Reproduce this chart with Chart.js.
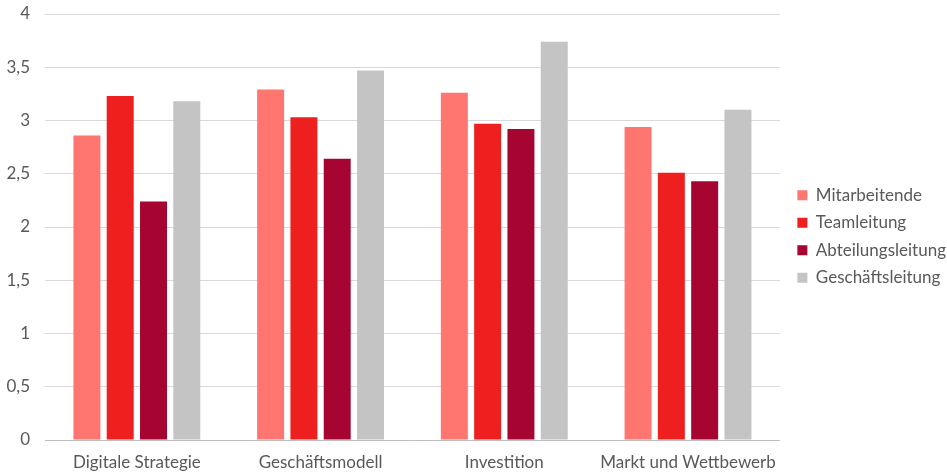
<!DOCTYPE html>
<html lang="de">
<head>
<meta charset="utf-8">
<title>Bewertung nach Ebene</title>
<script src="https://cdn.jsdelivr.net/npm/chart.js@4.4.1/dist/chart.umd.min.js"></script>
<style>
    html, body { margin: 0; padding: 0; background: #fff; }
    #wrap { width: 947px; height: 475px; position: relative; }
</style>
</head>
<body>
<div id="wrap"><canvas id="chart"></canvas></div>
<script>
// Kategorien und Werte je Ebene
const categories = ['Digitale Strategie', 'Geschäftsmodell', 'Investition', 'Markt und Wettbewerb'];
const mitarbeitende = [2.86, 3.29, 3.26, 2.94];
const teamleitung = [3.23, 3.03, 2.97, 2.51];
const abteilungsleitung = [2.24, 2.64, 2.92, 2.43];
const geschaeftsleitung = [3.18, 3.47, 3.74, 3.10];
const yTicks = [0, 0.5, 1, 1.5, 2, 2.5, 3, 3.5, 4];

const textColor = '#595959';
const fontFamily = 'Lato, "Open Sans", sans-serif';

function makeSet(label, data, color) {
    return {
        label: label,
        data: data,
        backgroundColor: color,
        borderWidth: 0,
        categoryPercentage: 0.725,
        barPercentage: 0.81
    };
}

// Legende etwas schmaler, nach rechts und leicht nach oben versetzt
const legendShift = {
    id: 'legendShift',
    beforeLayout(chart) {
        const lg = chart.legend;
        if (lg && !lg._patched) {
            const fit = lg.fit.bind(lg);
            lg.fit = function () {
                fit();
                this.width -= 2;
            };
            lg._patched = true;
        }
    },
    afterLayout(chart) {
        const lg = chart.legend;
        if (lg) {
            lg.left += 7;
            lg.right += 7;
            lg.top -= 8;
            lg.bottom -= 8;
        }
    }
};

const ctx = document.getElementById('chart');

new Chart(ctx, {
    type: 'bar',
    data: {
        labels: categories,
        datasets: [
            makeSet('Mitarbeitende', mitarbeitende, '#FF756F'),
            makeSet('Teamleitung', teamleitung, '#EE1F1F'),
            makeSet('Abteilungsleitung', abteilungsleitung, '#A60431'),
            makeSet('Geschäftsleitung', geschaeftsleitung, '#C4C4C4')
        ]
    },
    plugins: [legendShift],
    options: {
        responsive: true,
        maintainAspectRatio: false,
        animation: false,
        layout: {
            padding: { top: 14, right: 0, bottom: 0, left: 4 }
        },
        plugins: {
            legend: {
                position: 'right',
                align: 'center',
                labels: {
                    boxWidth: 10,
                    boxHeight: 10,
                    padding: 10.5,
                    color: textColor,
                    font: { family: fontFamily, size: 17 }
                }
            },
            tooltip: { enabled: false }
        },
        scales: {
            x: {
                grid: { display: false, drawTicks: false },
                border: { color: '#BFBFBF', width: 1 },
                afterFit: s => { s.height = 35; },
                ticks: {
                    color: textColor,
                    padding: 12,
                    font: { family: fontFamily, size: 17 }
                }
            },
            y: {
                min: 0,
                max: 4,
                afterBuildTicks: axis => {
                    axis.ticks = yTicks.map(v => ({ value: v }));
                },
                afterFit: s => {
                    s.width = 41;
                    s.paddingTop = 0;
                    s.paddingBottom = 0;
                },
                grid: { color: '#D9D9D9', drawTicks: false, lineWidth: 1 },
                border: { display: false },
                ticks: {
                    color: textColor,
                    padding: 15,
                    font: { family: fontFamily, size: 17 },
                    callback: v => String(v).replace('.', ',')
                }
            }
        }
    }
});
</script>
</body>
</html>
